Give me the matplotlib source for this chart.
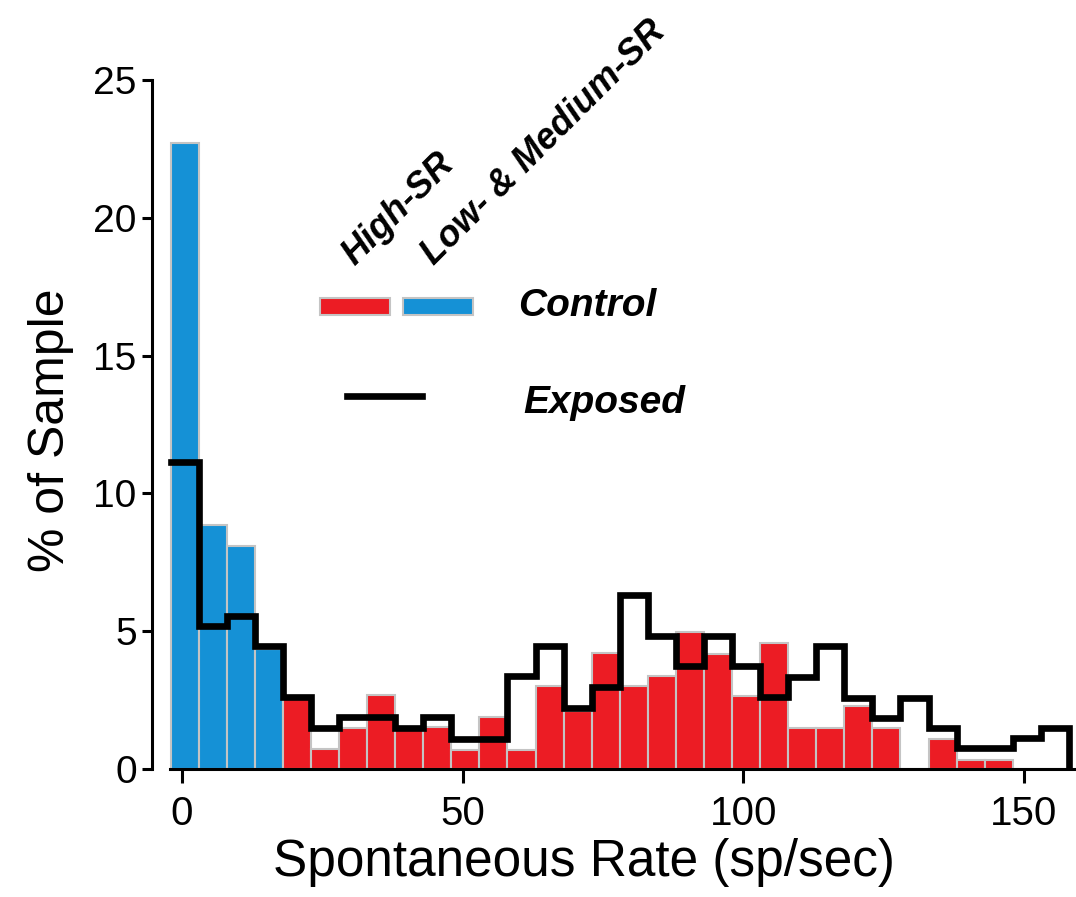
import matplotlib
matplotlib.use('Agg')
import matplotlib.pyplot as plt
from matplotlib.patches import Rectangle
from matplotlib.lines import Line2D

plt.rcParams['font.family'] = ['Liberation Sans', 'DejaVu Sans']

# bin edges (sp/sec), 5 sp/sec wide
bin_edges = [-2, 3, 8, 13, 18, 23, 28, 33, 38, 43, 48, 53, 58, 63, 68, 73, 78,
             83, 88, 93, 98, 103, 108, 113, 118, 123, 128, 133, 138, 143, 148, 153, 158]
# low/medium-SR vs high-SR boundary
sr_split = 18

# control (% of sample) per bin
control = [22.7, 8.85, 8.1, 4.35, 2.55, 0.72, 1.48, 2.69, 1.45, 1.52, 0.7, 1.87,
           0.7, 3.02, 2.09, 4.21, 3.02, 3.39, 4.96, 4.19, 2.66, 4.58, 1.48, 1.48,
           2.27, 1.48, 0.0, 1.08, 0.33, 0.33, 0.0, 0.0]
# exposed (% of sample) per bin
exposed = [11.13, 5.18, 5.55, 4.48, 2.61, 1.48, 1.87, 1.87, 1.48, 1.87, 1.1, 1.1,
           3.36, 4.45, 2.23, 2.97, 6.30, 4.84, 3.73, 4.84, 3.73, 2.63, 3.34, 4.48,
           2.57, 1.85, 2.57, 1.48, 0.75, 0.75, 1.12, 1.48]

x_ticks = [0, 50, 100, 150]
y_ticks = [0, 5, 10, 15, 20, 25]

RED = '#ec1c24'
BLUE = '#1591d6'
EDGE = '#c4c4c4'

W, H = 1076, 897
fig = plt.figure(figsize=(W / 100, H / 100), dpi=100)
ax = fig.add_axes([152 / W, 1 - 769 / H, (1074 - 152) / W, (769 - 80) / H])

lefts = bin_edges[:-1]
widths = [b - a for a, b in zip(bin_edges[:-1], bin_edges[1:])]
colors = [BLUE if l < sr_split else RED for l in lefts]
ax.bar(lefts, control, width=widths, align='edge', color=colors,
       edgecolor=EDGE, linewidth=1.5, zorder=1)

ax.step(bin_edges, exposed + [0], where='post', color='black', lw=4.8,
        solid_joinstyle='miter', solid_capstyle='projecting', zorder=3)

ax.set_xlim(-5.3, 158.9)
ax.set_ylim(0, 25)
for s in ['top', 'right']:
    ax.spines[s].set_visible(False)
ax.spines['left'].set_bounds(0, 25)
ax.spines['bottom'].set_bounds(-2.1, 158.9)
for s in ['left', 'bottom']:
    ax.spines[s].set_linewidth(2.2)
    ax.spines[s].set_zorder(4)

ax.set_xticks(x_ticks)
ax.set_yticks(y_ticks)
ax.tick_params(axis='x', length=10, width=2.2, labelsize=29, pad=9)
ax.tick_params(axis='y', length=7, width=2.2, labelsize=28, pad=4)

ax.set_xlabel('Spontaneous Rate (sp/sec)', fontsize=37)
ax.xaxis.set_label_coords(0.4685, -0.100)
ax.set_ylabel('% of Sample', fontsize=36)
ax.yaxis.set_label_coords(-0.085, 0.491)


# legend, placed in pixel positions
def fx(px):
    return px / W


def fy(py):
    return 1 - py / H


leg_font = dict(fontsize=28, fontweight='bold', fontstyle='italic')
rot_font = dict(fontsize=26, fontweight='bold', fontstyle='italic')
fig.text(fx(355), fy(266), 'High-SR', rotation=45, rotation_mode='anchor',
         ha='left', va='baseline', **rot_font)
fig.text(fx(434), fy(266), 'Low- & Medium-SR', rotation=45, rotation_mode='anchor',
         ha='left', va='baseline', **rot_font)
fig.patches.append(Rectangle((fx(320), fy(315)), fx(70), 17 / H, facecolor=RED,
                             edgecolor=EDGE, linewidth=1.5, transform=fig.transFigure))
fig.patches.append(Rectangle((fx(403), fy(315)), fx(70), 17 / H, facecolor=BLUE,
                             edgecolor=EDGE, linewidth=1.5, transform=fig.transFigure))
fig.text(fx(518), fy(316), 'Control', ha='left', va='baseline', **leg_font)
fig.lines.append(Line2D([fx(347), fx(422)], [fy(396), fy(396)], color='black',
                        lw=4.8, transform=fig.transFigure))
fig.text(fx(523), fy(413), 'Exposed', ha='left', va='baseline', **leg_font)

fig.savefig('out.png', dpi=100)
